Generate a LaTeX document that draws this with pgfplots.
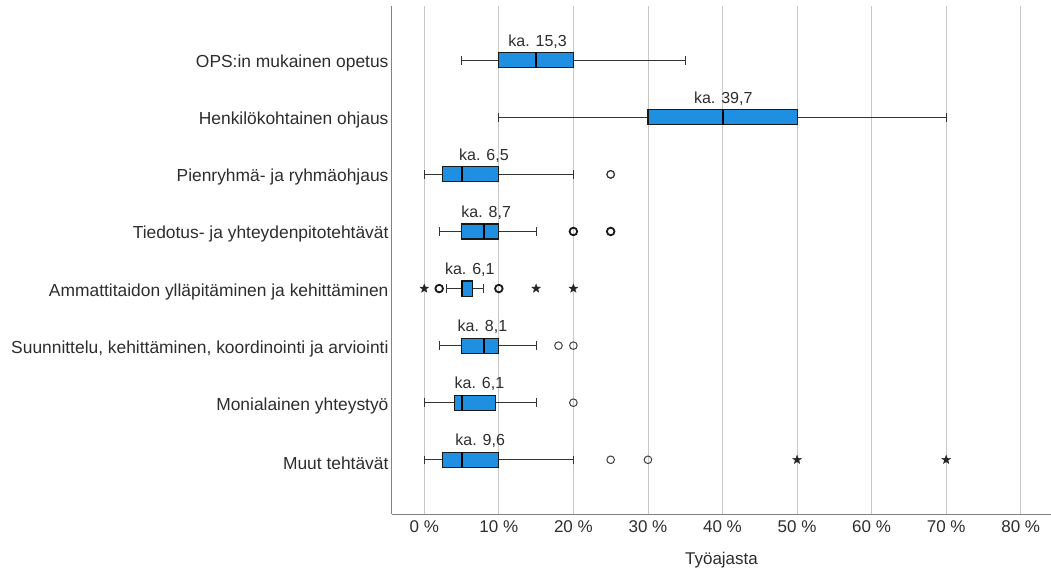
\documentclass[border=0pt]{standalone}
\usepackage{fontspec}
\setmainfont{Liberation Sans}
\usepackage{pgfplots}
\pgfplotsset{compat=1.18}
\usepgfplotslibrary{statistics}

\definecolor{boxblue}{RGB}{31,143,226}
\definecolor{txt}{RGB}{45,45,45}
\definecolor{gridc}{RGB}{200,200,200}
\definecolor{axc}{RGB}{130,130,130}

% filled five-pointed star for extreme values
\pgfdeclareplotmark{fstar}{%
  \pgfpathmoveto{\pgfpointpolar{90}{\pgfplotmarksize}}%
  \pgfpathlineto{\pgfpointpolar{126}{0.42*\pgfplotmarksize}}%
  \pgfpathlineto{\pgfpointpolar{162}{\pgfplotmarksize}}%
  \pgfpathlineto{\pgfpointpolar{198}{0.42*\pgfplotmarksize}}%
  \pgfpathlineto{\pgfpointpolar{234}{\pgfplotmarksize}}%
  \pgfpathlineto{\pgfpointpolar{270}{0.42*\pgfplotmarksize}}%
  \pgfpathlineto{\pgfpointpolar{306}{\pgfplotmarksize}}%
  \pgfpathlineto{\pgfpointpolar{342}{0.42*\pgfplotmarksize}}%
  \pgfpathlineto{\pgfpointpolar{18}{\pgfplotmarksize}}%
  \pgfpathlineto{\pgfpointpolar{54}{0.42*\pgfplotmarksize}}%
  \pgfpathclose
  \pgfusepathqfillstroke}

\pgfplotsset{
  bx/.style={
    fill=boxblue, draw=black!90, line width=1.1pt, solid, mark=none,
    boxplot/box extend=0.263,
    boxplot/whisker extend=0.15,
    boxplot/every median/.style={line width=2pt, black},
    boxplot/every whisker/.style={draw=black!80, line width=1pt},
  },
}

\begin{document}
\begin{tikzpicture}
\begin{axis}[
    name=ax,
    scale only axis,
    width=659pt, height=508pt,
    xmin=-4.33, xmax=84.06,
    ymin=-0.95, ymax=7.95,
    y dir=reverse,
    axis x line*=bottom,
    axis y line*=left,
    axis line style={axc, line width=1pt},
    major tick length=0pt,
    xtick={0,10,...,80},
    xticklabels={0 \%,10 \%,20 \%,30 \%,40 \%,50 \%,60 \%,70 \%,80 \%},
    ytick={0,...,7},
    yticklabels={
      OPS:in mukainen opetus,
      Henkilökohtainen ohjaus,
      Pienryhmä- ja ryhmäohjaus,
      Tiedotus- ja yhteydenpitotehtävät,
      Ammattitaidon ylläpitäminen ja kehittäminen,
      {Suunnittelu, kehittäminen, koordinointi ja arviointi},
      Monialainen yhteystyö,
      Muut tehtävät},
    xmajorgrids,
    grid style={gridc, line width=0.9pt},
    yticklabel style={font=\fontsize{17.4}{20}\selectfont, text=txt, yshift=-3pt},
    xticklabel style={font=\fontsize{17}{20}\selectfont, text=txt, yshift=-3pt},
    xlabel={Työajasta},
    xlabel style={font=\fontsize{17}{20}\selectfont, text=txt, yshift=-13pt},
  ]

  \addplot[bx, boxplot prepared={draw position=0,
    lower whisker=5, lower quartile=10, median=15,
    upper quartile=20, upper whisker=35}] coordinates {};
  \addplot[bx, boxplot prepared={draw position=1,
    lower whisker=10, lower quartile=30, median=40,
    upper quartile=50, upper whisker=70}] coordinates {};
  \addplot[bx, boxplot prepared={draw position=2,
    lower whisker=0, lower quartile=2.5, median=5,
    upper quartile=10, upper whisker=20}] coordinates {};
  \addplot[bx, boxplot prepared={draw position=3,
    lower whisker=2, lower quartile=5, median=8,
    upper quartile=10, upper whisker=15}] coordinates {};
  \addplot[bx, boxplot prepared={draw position=4,
    lower whisker=3, lower quartile=5, median=5,
    upper quartile=6.5, upper whisker=8}] coordinates {};
  \addplot[bx, boxplot prepared={draw position=5,
    lower whisker=2, lower quartile=5, median=8,
    upper quartile=10, upper whisker=15}] coordinates {};
  \addplot[bx, boxplot prepared={draw position=6,
    lower whisker=0, lower quartile=4, median=5,
    upper quartile=9.5, upper whisker=15}] coordinates {};
  \addplot[bx, boxplot prepared={draw position=7,
    lower whisker=0, lower quartile=2.5, median=5,
    upper quartile=10, upper whisker=20}] coordinates {};

  % outliers
  \addplot[only marks, mark=o, mark size=3.8pt, black!75, line width=1pt]
    coordinates {(18,5) (20,5) (20,6) (25,7) (30,7)};
  \addplot[only marks, mark=o, mark size=3.8pt, black!80, line width=1.3pt]
    coordinates {(25,2)};
  \addplot[only marks, mark=o, mark size=3.8pt, black!90, line width=1.8pt]
    coordinates {(20,3) (25,3) (2,4) (10,4)};
  % extremes
  \addplot[only marks, mark=fstar, mark size=4.6pt, black!85, line width=0.3pt]
    coordinates {(0,4) (15,4) (20,4) (50,7) (70,7)};

  % mean labels
  \begin{scope}[every node/.style={font=\fontsize{16}{19}\selectfont, text=txt, anchor=base}]
    \node at (axis cs:15.2,-0.242) {ka. 15,3};
    \node at (axis cs:40.1,0.758) {ka. 39,7};
    \node at (axis cs:8.0,1.758) {ka. 6,5};
    \node at (axis cs:8.3,2.758) {ka. 8,7};
    \node at (axis cs:6.1,3.758) {ka. 6,1};
    \node at (axis cs:7.8,4.758) {ka. 8,1};
    \node at (axis cs:7.4,5.758) {ka. 6,1};
    \node at (axis cs:7.5,6.758) {ka. 9,6};
  \end{scope}
\end{axis}
\pgfresetboundingbox
\path[use as bounding box] ([shift={(-392pt,-59pt)}]ax.south west)
  rectangle ([shift={(0pt,6pt)}]ax.north east);
\end{tikzpicture}
\end{document}
